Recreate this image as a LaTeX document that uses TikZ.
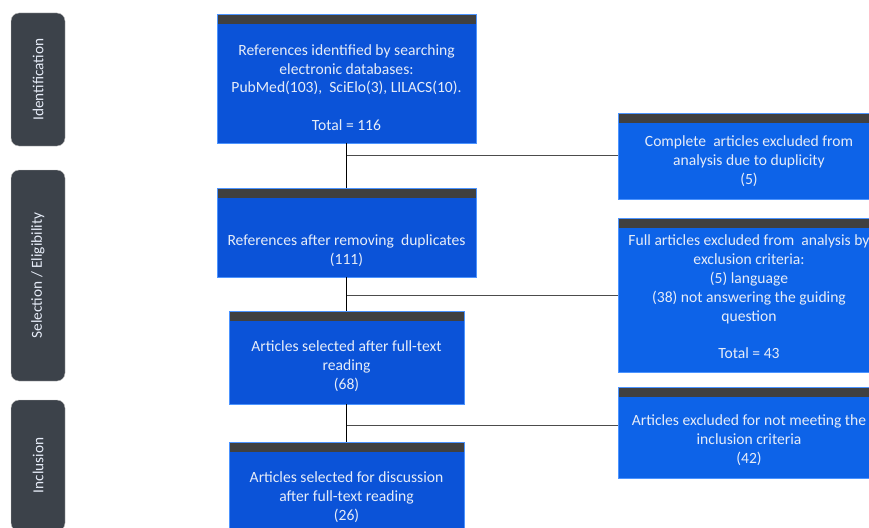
\documentclass[tikz,border=0pt]{standalone}
\usepackage{fontspec}
\setmainfont{Carlito}
\usetikzlibrary{positioning}
\definecolor{tabgray}{HTML}{3C424A}
\definecolor{hdrgray}{HTML}{404040}
\definecolor{leftblue}{HTML}{0B53D8}
\definecolor{rightblue}{HTML}{0D63E8}
\definecolor{paletext}{HTML}{E6ECF8}
\tikzstyle{stage} = [fill=tabgray, draw=gray!50, rounded corners=8pt, rotate=90, minimum height=54pt, text=paletext, font=\fontsize{15.3}{18}\selectfont]
\tikzstyle{box} = [fill=leftblue, draw=blue!60!cyan!70, line width=0.5pt, inner sep=0pt,
	path picture={\fill[hdrgray] (path picture bounding box.north west) rectangle ([yshift=-10pt]path picture bounding box.north east);}]
\tikzstyle{rbox} = [box, fill=rightblue]
\tikzstyle{txt} = [text=paletext, align=center, font=\fontsize{15.6}{18.8}\selectfont]
\tikzstyle{link} = [black, line width=0.8pt]
\tikzstyle{branch} = [black!70, line width=1pt]

\begin{document}
\begin{tikzpicture}[x=1pt,y=-1pt]
	\useasboundingbox (0,0) rectangle (869,527);
	\clip (0,0) rectangle (869,527);
	
	% stage tabs
	\node[stage, minimum width=133pt] (ident) at (38,79.5) {Identification};
	\node[stage, minimum width=211pt] (select) at (38,275.5) {Selection / Eligibility};
	\node[stage, minimum width=131pt] (inclu) at (38,465.5) {Inclusion};
	
	% main column
	\node[box, minimum width=259pt, minimum height=129pt,
		label={[txt,yshift=-9pt]center:References identified by searching\\electronic databases:\\PubMed(103),~ SciElo(3), LILACS(10).\\[18.8pt]Total = 116}]
		(refs) at (346.5,78.5) {};
	\node[box, minimum width=259pt, minimum height=89pt,
		label={[txt,yshift=-18pt]center:References after removing~ duplicates\\(111)}]
		(dedup) at (346.5,232.5) {};
	\node[box, minimum width=235pt, minimum height=93pt,
		label={[txt,yshift=-8.5pt]center:Articles selected after full-text\\reading\\(68)}]
		(fulltext) at (346.5,357.5) {};
	\node[box, minimum width=235pt, minimum height=103pt,
		label={[txt,yshift=-3.5pt]center:Articles selected for discussion\\after full-text reading\\(26)}]
		(final) at (346.5,493.5) {};
	
	% excluded column
	\node[rbox, minimum width=262pt, minimum height=86pt,
		label={[txt,yshift=-5pt]center:Complete~ articles excluded from\\analysis due to duplicity\\(5)}]
		(dup) at (749,156) {};
	\node[rbox, minimum width=262pt, minimum height=154pt,
		label={[txt,yshift=-2pt]center:Full articles excluded from~ analysis by\\exclusion criteria:\\(5) language\\(38) not answering the guiding\\question\\[18.8pt]Total = 43}]
		(excl) at (749,295) {};
	\node[rbox, minimum width=262pt, minimum height=91pt,
		label={[txt,yshift=-7.5pt]center:Articles excluded for not meeting the\\inclusion criteria\\(42)}]
		(nomeet) at (749,432.5) {};
	
	% connectors
	\coordinate (j1) at (refs.south |- 0,155);
	\coordinate (j2) at (dedup.south |- 0,295);
	\coordinate (j3) at (fulltext.south |- 0,425);
	\draw[link] (refs.south) -- (dedup.north);
	\draw[link] (dedup.south) -- (fulltext.north);
	\draw[link] (fulltext.south) -- (final.north);
	\draw[branch] (j1) -- (j1 -| dup.west);
	\draw[branch] (j2) -- (j2 -| excl.west);
	\draw[branch] (j3) -- (j3 -| nomeet.west);
\end{tikzpicture}
\end{document}
